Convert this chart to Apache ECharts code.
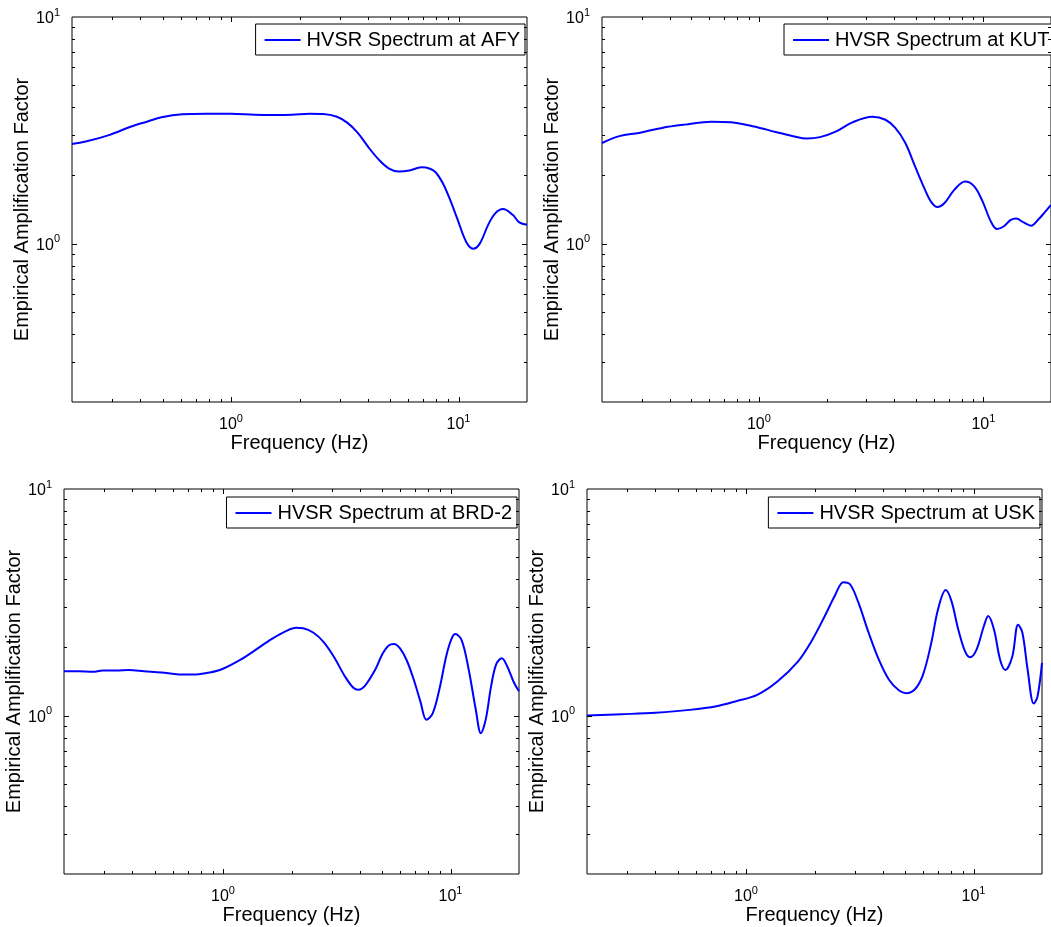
<!DOCTYPE html>
<html><head><meta charset="utf-8">
<script src="https://cdn.jsdelivr.net/npm/echarts@6/dist/echarts.min.js"></script>
<style>html,body{margin:0;padding:0;background:#fff}#c{width:1051px;height:927px}</style>
</head><body><div id="c"></div>
<script>
// ---------------- DATA ----------------
const stationNames = ['AFY', 'KUT', 'BRD-2', 'USK'];

const afyFreq = [0.2, 0.23, 0.293, 0.362, 0.43, 0.495, 0.61, 0.778, 1.0, 1.27, 1.56, 1.86, 2.21, 2.54, 2.92, 3.24, 3.6, 4.0, 4.44, 4.93, 5.47, 6.07, 6.87, 7.5, 7.95, 8.5, 9.07, 9.9, 10.8, 11.6, 12.4, 13.5, 14.5, 15.7, 17.3, 18.5, 20];
const afyAmp  = [2.75, 2.82, 3.02, 3.28, 3.46, 3.61, 3.72, 3.74, 3.74, 3.70, 3.69, 3.70, 3.74, 3.73, 3.63, 3.42, 3.09, 2.68, 2.36, 2.15, 2.08, 2.10, 2.17, 2.14, 2.06, 1.86, 1.61, 1.28, 1.02, 0.95, 1.0, 1.21, 1.36, 1.42, 1.34, 1.24, 1.21];

const kutFreq = [0.2, 0.239, 0.292, 0.37, 0.469, 0.614, 0.751, 0.95, 1.2, 1.42, 1.63, 1.87, 2.21, 2.61, 3.2, 3.66, 4.05, 4.49, 4.96, 5.49, 5.87, 6.24, 6.71, 7.43, 8.28, 9.1, 9.9, 10.8, 11.5, 12.3, 13.2, 14.0, 15.1, 16.3, 17.6, 18.7, 20];
const kutAmp  = [2.78, 2.98, 3.08, 3.24, 3.35, 3.45, 3.43, 3.29, 3.10, 2.98, 2.91, 2.95, 3.13, 3.43, 3.63, 3.52, 3.24, 2.78, 2.19, 1.73, 1.52, 1.45, 1.51, 1.73, 1.88, 1.79, 1.54, 1.25, 1.16, 1.19, 1.27, 1.29, 1.24, 1.20, 1.28, 1.37, 1.48];

const brdFreq = [0.2, 0.232, 0.267, 0.296, 0.341, 0.385, 0.451, 0.537, 0.64, 0.762, 0.876, 1.0, 1.2, 1.38, 1.64, 1.89, 2.1, 2.25, 2.5, 2.77, 3.08, 3.42, 3.73, 3.94, 4.22, 4.69, 5.02, 5.35, 5.65, 6.0, 6.41, 6.88, 7.38, 7.83, 8.34, 8.94, 9.59, 10.1, 10.5, 11.2, 12.0, 12.9, 13.6, 14.3, 15.1, 15.9, 16.8, 17.7, 19.0, 20];
const brdAmp  = [1.57, 1.57, 1.56, 1.58, 1.58, 1.59, 1.57, 1.55, 1.52, 1.52, 1.55, 1.61, 1.77, 1.94, 2.18, 2.36, 2.44, 2.43, 2.32, 2.11, 1.81, 1.50, 1.33, 1.30, 1.36, 1.61, 1.87, 2.04, 2.07, 1.98, 1.76, 1.45, 1.15, 0.96, 1.02, 1.31, 1.84, 2.18, 2.29, 2.15, 1.61, 1.07, 0.835, 0.967, 1.36, 1.69, 1.79, 1.66, 1.40, 1.28];

const uskFreq = [0.2, 0.285, 0.40, 0.565, 0.742, 0.912, 1.12, 1.37, 1.69, 1.94, 2.22, 2.46, 2.68, 2.87, 3.12, 3.46, 3.84, 4.25, 4.71, 5.05, 5.5, 5.99, 6.52, 6.98, 7.55, 8.0, 8.57, 9.18, 9.66, 10.3, 11.1, 11.6, 12.3, 13.1, 13.8, 14.8, 15.7, 16.4, 17.3, 18.4, 19.1, 20];
const uskAmp  = [1.0, 1.014, 1.03, 1.06, 1.10, 1.16, 1.235, 1.41, 1.73, 2.13, 2.75, 3.39, 3.88, 3.79, 3.15, 2.32, 1.76, 1.44, 1.29, 1.256, 1.30, 1.51, 2.09, 2.94, 3.58, 3.20, 2.40, 1.92, 1.81, 1.95, 2.48, 2.75, 2.40, 1.76, 1.59, 1.82, 2.52, 2.32, 1.59, 1.13, 1.21, 1.71];

const xRange = [0.2, 20];
const yRange = [0.2, 10];
const xMajorTicks = [1, 10];
const xMinorTicks = [0.3, 0.4, 0.5, 0.6, 0.7, 0.8, 0.9, 2, 3, 4, 5, 6, 7, 8, 9];
const yMajorTicks = [1];
const yMinorTicks = [0.3, 0.4, 0.5, 0.6, 0.7, 0.8, 0.9, 2, 3, 4, 5, 6, 7, 8, 9];
const xAxisTitle = 'Frequency (Hz)';
const yAxisTitle = 'Empirical Amplification Factor';
const legendPrefix = 'HVSR Spectrum at ';

// ---------------- LAYOUT ----------------
const FONT = 'Liberation Sans, Arial, sans-serif';
const panels = [
  {freq: afyFreq, amp: afyAmp, left: 72, top: 17, legendPos: {right: 526, top: 24}},
  {freq: kutFreq, amp: kutAmp, left: 602, top: 17, legendPos: {left: 784, top: 24}},
  {freq: brdFreq, amp: brdAmp, left: 64, top: 489, legendPos: {right: 534, top: 497}},
  {freq: uskFreq, amp: uskAmp, left: 587, top: 489, legendPos: {right: 11, top: 497}}
];
const W = 455, H = 385;

function near(v, t) { return Math.abs(v - t) < 1e-6 * t; }
function powLabel(v) {
  if (near(v, 1)) return '{b|10}{s|0}';
  if (near(v, 10)) return '{b|10}{s|1}';
  return '';
}
const richLabel = {
  b: {fontSize: 16, fontFamily: FONT, color: '#000', verticalAlign: 'bottom'},
  s: {fontSize: 11, fontFamily: FONT, color: '#000', verticalAlign: 'bottom', padding: [0, 0, 9, 0]}
};

function tickRenderer(isX, major) {
  return function (params, api) {
    const cs = params.coordSys;
    const vx = api.value(0), vy = api.value(1);
    const p = api.coord([vx, vy]);
    const v = isX ? vx : vy;
    const len = major.some(m => near(v, m)) ? 5 : 3;
    const style = {stroke: '#000', lineWidth: 1};
    if (isX) {
      const x = Math.round(p[0]) + 0.5;
      return {type: 'group', children: [
        {type: 'line', shape: {x1: x, y1: cs.y + cs.height, x2: x, y2: cs.y + cs.height - len}, style},
        {type: 'line', shape: {x1: x, y1: cs.y, x2: x, y2: cs.y + len}, style}
      ]};
    }
    const y = Math.round(p[1]) + 0.5;
    return {type: 'group', children: [
      {type: 'line', shape: {x1: cs.x, y1: y, x2: cs.x + len, y2: y}, style},
      {type: 'line', shape: {x1: cs.x + cs.width, y1: y, x2: cs.x + cs.width - len, y2: y}, style}
    ]};
  };
}

const option = {
  backgroundColor: '#fff',
  animation: false,
  grid: [], xAxis: [], yAxis: [], series: [], legend: []
};

const xTickVals = xMinorTicks.concat(xMajorTicks);
const yTickVals = yMinorTicks.concat(yMajorTicks);

panels.forEach((p, i) => {
  const name = legendPrefix + stationNames[i];
  option.grid.push({left: p.left, top: p.top, width: W, height: H, show: true,
    borderColor: '#000', borderWidth: 1, backgroundColor: '#fff', containLabel: false});
  option.xAxis.push({type: 'log', gridIndex: i, min: xRange[0], max: xRange[1], logBase: 10,
    axisLine: {show: false}, axisTick: {show: false}, splitLine: {show: false},
    axisLabel: {formatter: powLabel, rich: richLabel, margin: 11, showMinLabel: false, showMaxLabel: false},
    name: xAxisTitle, nameLocation: 'middle', nameGap: 30,
    nameTextStyle: {fontSize: 20, fontFamily: FONT, color: '#000'}});
  option.yAxis.push({type: 'log', gridIndex: i, min: yRange[0], max: yRange[1], logBase: 10,
    axisLine: {show: false}, axisTick: {show: false}, splitLine: {show: false},
    axisLabel: {formatter: powLabel, rich: richLabel, margin: 12, showMinLabel: false},
    name: yAxisTitle, nameLocation: 'middle', nameGap: 35,
    nameTextStyle: {fontSize: 20, fontFamily: FONT, color: '#000'}});
  option.series.push({type: 'line', name: name, xAxisIndex: i, yAxisIndex: i,
    data: p.freq.map((f, k) => [f, p.amp[k]]), symbol: 'none', showSymbol: false,
    smooth: 0.35, lineStyle: {color: '#0000ff', width: 2}, itemStyle: {color: '#0000ff'}, z: 3});
  option.series.push({type: 'custom', xAxisIndex: i, yAxisIndex: i, silent: true, clip: false, z: 5,
    data: xTickVals.map(v => [v, 1]), renderItem: tickRenderer(true, xMajorTicks)});
  option.series.push({type: 'custom', xAxisIndex: i, yAxisIndex: i, silent: true, clip: false, z: 5,
    data: yTickVals.map(v => [1, v]), renderItem: tickRenderer(false, yMajorTicks)});
  option.legend.push(Object.assign({data: [{name: name, icon: 'rect'}],
    backgroundColor: '#fff', borderColor: '#000', borderWidth: 1, borderRadius: 0,
    padding: [6, 5, 5, 9], itemWidth: 36, itemHeight: 2, selectedMode: false,
    itemStyle: {color: '#0000ff', borderWidth: 0},
    textStyle: {fontSize: 20, fontFamily: FONT, color: '#000', padding: [0, 0, 0, 1]}}, p.legendPos));
});

const chart = echarts.init(document.getElementById('c'), null, {renderer: 'canvas'});
chart.setOption(option);
</script></body></html>
